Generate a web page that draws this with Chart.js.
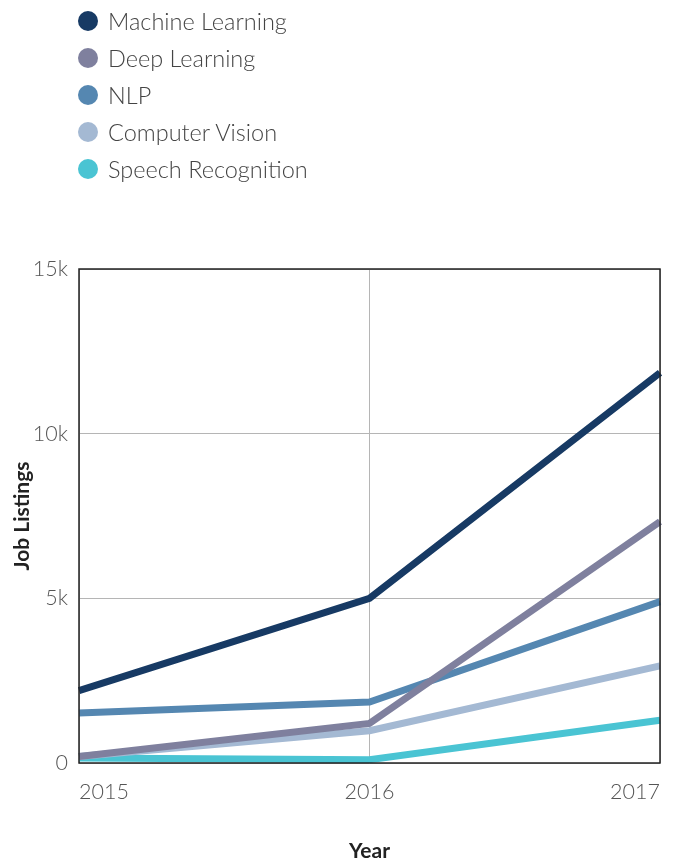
<!DOCTYPE html>
<html>
<head>
<meta charset="utf-8">
<script src="https://cdn.jsdelivr.net/npm/chart.js@4.4.1/dist/chart.umd.min.js"></script>
<style>
  html, body { margin: 0; padding: 0; background: #fff; }
  #wrap { position: relative; width: 683px; height: 864px; }
  #chart { position: absolute; left: 0; top: 0; }
  #legend { position: absolute; left: 78px; top: 0; margin: 0; padding: 0; list-style: none;
    font-family: Lato, sans-serif; font-weight: 300; font-size: 23.5px; color: #444; }
  #legend li { height: 37px; display: flex; align-items: center; }
  #legend li:first-child { margin-top: 2px; }
  #legend .dot { width: 20px; height: 20px; border-radius: 50%; margin-right: 10px; }
</style>
</head>
<body>
<div id="wrap">
  <canvas id="chart" width="683" height="864"></canvas>
  <ul id="legend"></ul>
</div>
<script>
// annees et offres d'emploi par domaine
const years = ["2015", "2016", "2017"];
const machineLearning = [2200, 5000, 11850];
const deepLearning = [200, 1200, 7330];
const nlp = [1520, 1850, 4900];
const computerVision = [200, 980, 2950];
const speechRecognition = [150, 100, 1300];

const seriesNames = ["Machine Learning", "Deep Learning", "NLP", "Computer Vision", "Speech Recognition"];
const seriesColors = ["#173a64", "#7f809e", "#5587b1", "#a4b9d3", "#4ac4d3"];
const seriesValues = [machineLearning, deepLearning, nlp, computerVision, speechRecognition];

// cadre complet autour de la zone du graphique
const frame = {
  id: "frame",
  afterDatasetsDraw(chart) {
    const { ctx, chartArea: a } = chart;
    ctx.save();
    ctx.strokeStyle = "#222";
    ctx.lineWidth = 1.5;
    ctx.strokeRect(a.left, a.top, a.right - a.left, a.bottom - a.top);
    ctx.restore();
  },
};

const tickFont = { family: "Lato", size: 21.5, weight: 300 };
const titleFont = { family: "Lato", size: 21, weight: "bold" };

const chart = new Chart(document.getElementById("chart"), {
  type: "line",
  data: {
    labels: years,
    datasets: seriesNames.map((name, i) => ({
      label: name,
      data: seriesValues[i],
      borderColor: seriesColors[i],
      backgroundColor: seriesColors[i],
      borderWidth: 7,
      pointRadius: 0,
      tension: 0,
      borderJoinStyle: "miter",
      borderCapStyle: "butt",
    })),
  },
  options: {
    responsive: false,
    animation: false,
    layout: { padding: { left: 0, right: 23, top: 269, bottom: 0 } },
    plugins: { legend: { display: false }, tooltip: { enabled: false } },
    scales: {
      x: {
        grid: { color: "#b5b5b5", lineWidth: 1, drawTicks: false },
        border: { display: false },
        ticks: { font: tickFont, color: "#555", padding: 16, align: "inner", maxRotation: 0 },
        title: { display: true, text: "Year", font: titleFont, color: "#222", padding: { top: 0, bottom: 0 } },
        afterFit(scale) { scale.height = 101; },
      },
      y: {
        min: 0,
        max: 15000,
        grid: { color: "#b5b5b5", lineWidth: 1, drawTicks: false },
        border: { display: false },
        ticks: {
          stepSize: 5000,
          font: tickFont,
          color: "#555",
          padding: 11,
          callback: (v) => (v === 0 ? "0" : v / 1000 + "k"),
        },
        title: { display: true, text: "Job Listings", font: titleFont, color: "#222", padding: { top: 10, bottom: 0 } },
        afterFit(scale) { scale.width = 79; },
      },
    },
  },
  plugins: [frame],
});

// legende verticale construite depuis les datasets
const legend = document.getElementById("legend");
chart.data.datasets.forEach((ds) => {
  const li = document.createElement("li");
  const dot = document.createElement("span");
  dot.className = "dot";
  dot.style.background = ds.borderColor;
  li.appendChild(dot);
  li.appendChild(document.createTextNode(ds.label));
  legend.appendChild(li);
});
</script>
</body>
</html>
